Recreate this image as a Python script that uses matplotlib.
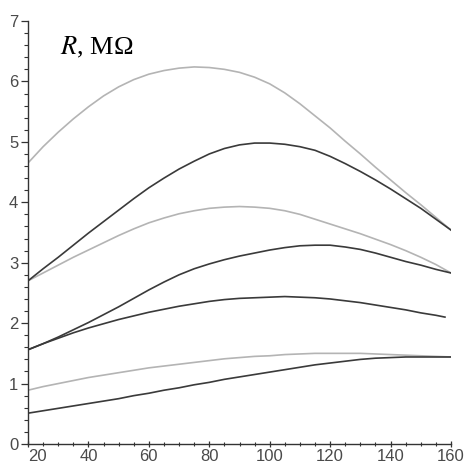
import matplotlib
matplotlib.use("Agg")
import matplotlib.pyplot as plt
from matplotlib.ticker import MultipleLocator

x = [20, 25, 30, 35, 40, 45, 50, 55, 60, 65, 70, 75, 80, 85, 90, 95, 100,
     105, 110, 115, 120, 125, 130, 135, 140, 145, 150, 155, 160]

curve1 = [4.65, 4.92, 5.16, 5.38, 5.58, 5.76, 5.91, 6.03, 6.12, 6.18, 6.22, 6.24, 6.23, 6.20, 6.15,
          6.07, 5.96, 5.81, 5.63, 5.43, 5.23, 5.01, 4.80, 4.58, 4.37, 4.16, 3.96, 3.75, 3.54]
curve2 = [2.70, 2.90, 3.09, 3.29, 3.49, 3.68, 3.87, 4.06, 4.24, 4.40, 4.55, 4.68, 4.80, 4.89, 4.95,
          4.98, 4.98, 4.96, 4.92, 4.86, 4.76, 4.64, 4.51, 4.37, 4.22, 4.06, 3.90, 3.72, 3.54]
curve3 = [2.70, 2.83, 2.96, 3.09, 3.21, 3.33, 3.45, 3.56, 3.66, 3.74, 3.81, 3.86, 3.90, 3.92, 3.93,
          3.92, 3.90, 3.86, 3.80, 3.72, 3.64, 3.56, 3.48, 3.39, 3.30, 3.20, 3.09, 2.97, 2.83]
curve4 = [1.56, 1.66, 1.77, 1.89, 2.01, 2.14, 2.27, 2.41, 2.55, 2.68, 2.80, 2.90, 2.98, 3.05, 3.11,
          3.16, 3.21, 3.25, 3.28, 3.29, 3.29, 3.26, 3.22, 3.16, 3.09, 3.02, 2.96, 2.89, 2.83]
x5 = [20, 25, 30, 35, 40, 45, 50, 55, 60, 65, 70, 75, 80, 85, 90, 95, 100,
      105, 110, 115, 120, 125, 130, 135, 140, 145, 150, 155, 158]
curve5 = [1.56, 1.66, 1.75, 1.84, 1.92, 1.99, 2.06, 2.12, 2.18, 2.23, 2.28, 2.32, 2.36, 2.39, 2.41,
          2.42, 2.43, 2.44, 2.43, 2.42, 2.40, 2.37, 2.34, 2.30, 2.26, 2.22, 2.17, 2.13, 2.10]
curve6 = [0.89, 0.95, 1.00, 1.05, 1.10, 1.14, 1.18, 1.22, 1.26, 1.29, 1.32, 1.35, 1.38, 1.41, 1.43,
          1.45, 1.46, 1.48, 1.49, 1.50, 1.50, 1.50, 1.50, 1.49, 1.48, 1.47, 1.46, 1.45, 1.44]
curve7 = [0.51, 0.55, 0.59, 0.63, 0.67, 0.71, 0.75, 0.80, 0.84, 0.89, 0.93, 0.98, 1.02, 1.07, 1.11,
          1.15, 1.19, 1.23, 1.27, 1.31, 1.34, 1.37, 1.40, 1.42, 1.43, 1.44, 1.44, 1.44, 1.44]

xticks = [20, 40, 60, 80, 100, 120, 140, 160]
yticks = [0, 1, 2, 3, 4, 5, 6, 7]

DARK = "#3a3a3a"
LIGHT = "#b4b4b4"

plt.rcParams['mathtext.fontset'] = 'stix'

fig = plt.figure(figsize=(4.65, 4.63), dpi=100)
ax = fig.add_axes([28/465, 19/463, (451-28)/465, (444-21)/463])

lw = 1.2
ax.plot(x, curve1, color=LIGHT, lw=lw)
ax.plot(x, curve3, color=LIGHT, lw=lw)
ax.plot(x, curve6, color=LIGHT, lw=lw)
ax.plot(x, curve2, color=DARK, lw=lw)
ax.plot(x, curve4, color=DARK, lw=lw)
ax.plot(x5, curve5, color=DARK, lw=lw)
ax.plot(x, curve7, color=DARK, lw=lw)

ax.set_xlim(20, 160)
ax.set_ylim(0, 7)
for s in ['top', 'right']:
    ax.spines[s].set_visible(False)
for s in ['left', 'bottom']:
    ax.spines[s].set_color('#333333')
    ax.spines[s].set_linewidth(1.0)

ax.set_xticks(xticks)
ax.set_xticklabels([str(t) for t in xticks])
ax.set_yticks(yticks)
ax.set_yticklabels([str(t) for t in yticks])
ax.xaxis.set_minor_locator(MultipleLocator(5))
ax.yaxis.set_minor_locator(MultipleLocator(0.2))

ax.tick_params(axis='x', which='major', direction='inout', length=5, width=0.9, color='#333333',
               labelsize=12, labelcolor='#4a4a4a', pad=1)
ax.tick_params(axis='x', which='minor', direction='inout', length=3, width=0.8, color='#333333')
ax.tick_params(axis='y', which='major', direction='out', length=5, width=0.9, color='#333333',
               labelsize=12, labelcolor='#4a4a4a', pad=2)
ax.tick_params(axis='y', which='minor', direction='out', length=3, width=0.8, color='#333333')
for lab in ax.get_xticklabels() + ax.get_yticklabels():
    lab.set_fontfamily('Liberation Sans')
ax.get_xticklabels()[0].set_horizontalalignment('left')

ax.text(60/465, 1 - 47/463, r'$R$, MΩ', transform=fig.transFigure, fontsize=19,
        family='Liberation Serif', va='center', ha='left', color='black')

fig.savefig('out.png', dpi=100)
